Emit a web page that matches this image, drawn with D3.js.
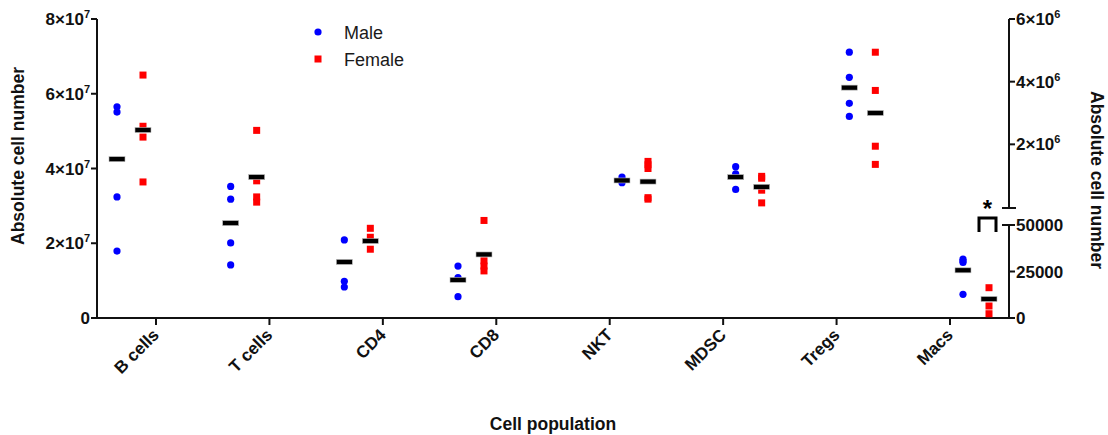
<!DOCTYPE html>
<html>
<head>
<meta charset="utf-8">
<script src="https://cdn.jsdelivr.net/npm/d3@7/dist/d3.min.js"></script>
<style>
  html, body { margin: 0; padding: 0; background: #fff; }
  svg { display: block; font-family: "Liberation Sans", Arial, sans-serif; }
</style>
</head>
<body>
<svg id="chart" width="1108" height="435"></svg>
<script>
// ---- data ----
const categories = ["B cells", "T cells", "CD4", "CD8", "NKT", "MDSC", "Tregs", "Macs"];
// which axis each category is plotted against
const categoryAxis = ["left", "left", "left", "left", "left", "left", "rightTop", "rightBottom"];

const maleValues = [
  [5.65e7, 5.51e7, 3.24e7, 1.79e7],
  [3.52e7, 3.18e7, 2.01e7, 1.42e7],
  [2.09e7, 0.98e7, 0.83e7],
  [1.39e7, 1.08e7, 0.57e7],
  [3.77e7, 3.70e7, 3.62e7],
  [4.05e7, 3.86e7, 3.44e7],
  [4.94e6, 4.14e6, 3.31e6, 2.89e6],
  [31600, 30700, 29840, 12740]
];
const femaleValues = [
  [6.50e7, 5.13e7, 4.84e7, 3.64e7],
  [5.02e7, 3.67e7, 3.24e7, 3.10e7],
  [2.40e7, 2.16e7, 1.84e7],
  [2.61e7, 1.53e7, 1.39e7, 1.26e7],
  [4.19e7, 4.10e7, 4.00e7, 3.22e7, 3.18e7],
  [3.79e7, 3.74e7, 3.42e7, 3.08e7],
  [4.94e6, 3.72e6, 1.94e6, 1.36e6],
  [16290, 6450, 2300]
];
const maleCenter = [4.25e7, 2.54e7, 1.50e7, 1.02e7, 3.68e7, 3.77e7, 3.81e6, 25640];
const femaleCenter = [5.03e7, 3.77e7, 2.06e7, 1.70e7, 3.65e7, 3.51e7, 3.00e6, 10215];

const leftTicks = [0, 2e7, 4e7, 6e7, 8e7];
const leftTickLabels = [["0", ""], ["2×10", "7"], ["4×10", "7"], ["6×10", "7"], ["8×10", "7"]];
const rightTopTicks = [2e6, 4e6, 6e6];
const rightTopTickLabels = [["2×10", "6"], ["4×10", "6"], ["6×10", "6"]];
const rightBottomTicks = [0, 25000, 50000];
const rightBottomTickLabels = [["0", ""], ["25000", ""], ["50000", ""]];

const seriesNames = ["Male", "Female"];
const seriesColors = ["#0000ff", "#ff0000"];

// ---- scales ----
const svg = d3.select("#chart");
const yLeft = d3.scaleLinear().domain([0, 8e7]).range([318, 19]);
const yRightTop = d3.scaleLinear().domain([0, 6e6]).range([207, 19]);
const yRightBottom = d3.scaleLinear().domain([0, 50000]).range([318, 225]);
const yFor = { left: yLeft, rightTop: yRightTop, rightBottom: yRightBottom };
const xTick = d3.scalePoint().domain(categories).range([156, 950]);
const xGroup = d3.scaleLinear().domain([0, 3, 4, 7]).range([130, 471, 635, 976]);
const seriesOffset = [-13, 13];

const axisColor = "#111";
const tickFont = 17;

// ---- axes ----
// left axis
const gL = svg.append("g");
gL.append("line").attr("x1", 97).attr("x2", 97).attr("y1", yLeft(8e7)).attr("y2", yLeft(0))
  .attr("stroke", axisColor).attr("stroke-width", 2);
leftTicks.forEach((t, i) => {
  const y = yLeft(t);
  gL.append("line").attr("x1", 91).attr("x2", 97).attr("y1", y).attr("y2", y)
    .attr("stroke", axisColor).attr("stroke-width", 2);
  const txt = gL.append("text").attr("x", 90).attr("y", y + 6).attr("text-anchor", "end")
    .attr("font-size", tickFont).attr("font-weight", "bold").attr("fill", axisColor);
  txt.append("tspan").text(leftTickLabels[i][0]);
  if (leftTickLabels[i][1]) txt.append("tspan").attr("font-size", 11).attr("dy", -7).text(leftTickLabels[i][1]);
});

// x axis
const gX = svg.append("g");
gX.append("line").attr("x1", 91).attr("x2", 1015).attr("y1", 318).attr("y2", 318)
  .attr("stroke", axisColor).attr("stroke-width", 2);
categories.forEach(c => {
  const x = xTick(c);
  gX.append("line").attr("x1", x).attr("x2", x).attr("y1", 318).attr("y2", 325)
    .attr("stroke", axisColor).attr("stroke-width", 2);
  gX.append("text").attr("transform", `translate(${x + 4},${336}) rotate(-45)`)
    .attr("text-anchor", "end").attr("font-size", tickFont).attr("font-weight", "bold")
    .attr("fill", axisColor).text(c);
});

// right axis: top segment
const RX = 1009;
const gR = svg.append("g");
gR.append("line").attr("x1", RX).attr("x2", RX).attr("y1", yRightTop(6e6)).attr("y2", 208)
  .attr("stroke", axisColor).attr("stroke-width", 2);
gR.append("line").attr("x1", 1002).attr("x2", 1016).attr("y1", 208).attr("y2", 208)
  .attr("stroke", axisColor).attr("stroke-width", 2);
rightTopTicks.forEach((t, i) => {
  const y = yRightTop(t);
  gR.append("line").attr("x1", RX).attr("x2", RX + 6).attr("y1", y).attr("y2", y)
    .attr("stroke", axisColor).attr("stroke-width", 2);
  const txt = gR.append("text").attr("x", RX + 7).attr("y", y + 6)
    .attr("font-size", tickFont).attr("font-weight", "bold").attr("fill", axisColor);
  txt.append("tspan").text(rightTopTickLabels[i][0]);
  if (rightTopTickLabels[i][1]) txt.append("tspan").attr("font-size", 11).attr("dy", -7).text(rightTopTickLabels[i][1]);
});
// right axis: bottom segment
gR.append("line").attr("x1", RX).attr("x2", RX).attr("y1", yRightBottom(50000)).attr("y2", yRightBottom(0))
  .attr("stroke", axisColor).attr("stroke-width", 2);
gR.append("line").attr("x1", 1002).attr("x2", RX).attr("y1", yRightBottom(50000)).attr("y2", yRightBottom(50000))
  .attr("stroke", axisColor).attr("stroke-width", 2);
rightBottomTicks.forEach((t, i) => {
  const y = yRightBottom(t);
  gR.append("line").attr("x1", RX).attr("x2", RX + 6).attr("y1", y).attr("y2", y)
    .attr("stroke", axisColor).attr("stroke-width", 2);
  gR.append("text").attr("x", RX + 7).attr("y", y + 6)
    .attr("font-size", tickFont).attr("font-weight", "bold").attr("fill", axisColor)
    .text(rightBottomTickLabels[i][0]);
});

// axis titles
svg.append("text").attr("transform", "translate(24,156) rotate(-90)").attr("text-anchor", "middle")
  .attr("font-size", 17.5).attr("font-weight", "bold").attr("fill", axisColor).text("Absolute cell number");
svg.append("text").attr("transform", "translate(1091,180) rotate(90)").attr("text-anchor", "middle")
  .attr("font-size", 17.5).attr("font-weight", "bold").attr("fill", axisColor).text("Absolute cell number");
svg.append("text").attr("x", 553).attr("y", 430).attr("text-anchor", "middle")
  .attr("font-size", 17.5).attr("font-weight", "bold").attr("fill", axisColor).text("Cell population");

// ---- points ----
const gP = svg.append("g");
[maleValues, femaleValues].forEach((series, s) => {
  series.forEach((vals, ci) => {
    const y = yFor[categoryAxis[ci]];
    const x = xGroup(ci) + seriesOffset[s];
    vals.forEach(v => {
      if (s === 0) {
        gP.append("circle").attr("cx", x).attr("cy", y(v)).attr("r", 3.6).attr("fill", seriesColors[0]);
      } else {
        gP.append("rect").attr("x", x - 3.5).attr("y", y(v) - 3.5).attr("width", 7).attr("height", 7)
          .attr("fill", seriesColors[1]);
      }
    });
  });
});
// center lines
[maleCenter, femaleCenter].forEach((series, s) => {
  series.forEach((v, ci) => {
    const y = yFor[categoryAxis[ci]];
    const x = xGroup(ci) + seriesOffset[s];
    gP.append("rect").attr("x", x - 8).attr("y", y(v) - 2.5).attr("width", 16).attr("height", 5)
      .attr("fill", "#000").attr("stroke", "#bbb").attr("stroke-width", 0.6);
  });
});

// significance bracket for Macs
const bx = xGroup(7) + 11.5;
const by = yRightBottom(0) - 100;
svg.append("path")
  .attr("d", `M${bx - 8.5},${by + 14} L${bx - 8.5},${by} L${bx + 8.5},${by} L${bx + 8.5},${by + 14}`)
  .attr("fill", "none").attr("stroke", "#000").attr("stroke-width", 3);
svg.append("text").attr("x", bx).attr("y", by - 1).attr("text-anchor", "middle")
  .attr("font-size", 24).attr("font-weight", "bold").attr("fill", "#000").text("*");

// ---- legend ----
const gLeg = svg.append("g");
seriesNames.forEach((name, i) => {
  const ly = 32 + i * 27;
  if (i === 0) gLeg.append("circle").attr("cx", 318).attr("cy", ly).attr("r", 3.6).attr("fill", seriesColors[0]);
  else gLeg.append("rect").attr("x", 314.5).attr("y", ly - 3.5).attr("width", 7).attr("height", 7).attr("fill", seriesColors[1]);
  gLeg.append("text").attr("x", 344).attr("y", ly + 6.5).attr("font-size", 18).attr("fill", "#1a1a1a").text(name);
});
</script>
</body>
</html>
